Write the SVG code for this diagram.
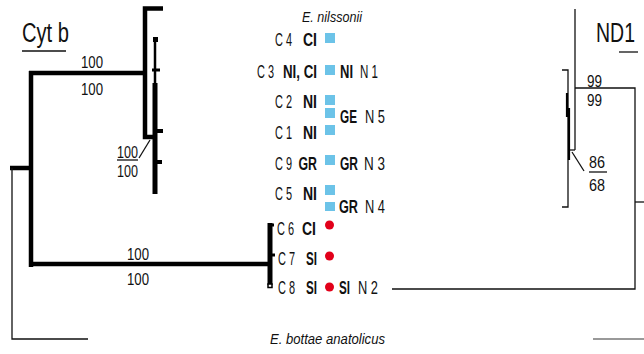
<svg xmlns="http://www.w3.org/2000/svg" width="644" height="354" viewBox="0 0 644 354">
<style>
text{font-family:"Liberation Sans","Arial",sans-serif;fill:#111}
.t{font-size:27px}
.s{font-size:16px}
.r{font-size:18.5px}
.b{font-size:18.5px;font-weight:bold}
.i{font-size:15px;font-style:italic}
.thick{stroke:#000;stroke-width:4.5;fill:none}
.thin{stroke:#111;stroke-width:1.3;fill:none}
.sq{fill:#6cc3e8}
.dot{fill:#e2001a}
</style>
<g id="connectors">
  <!-- Cyt b tree -->
  <line class="thick" x1="10" y1="168" x2="33" y2="168"/>
  <polyline class="thin" points="12,168 12,339 88,339"/>
  <line class="thick" x1="31" y1="71" x2="31" y2="267"/>
  <line class="thick" x1="29" y1="73" x2="147" y2="73"/>
  <line class="thick" x1="29" y1="264" x2="272" y2="264"/>
  <polyline class="thick" points="163,8.5 145,8.5 145,137 155,137"/>
  <rect x="153" y="37" width="5" height="5" fill="#000"/>
  <line x1="155" y1="40" x2="155" y2="85" stroke="#000" stroke-width="2.5"/>
  <line x1="155" y1="83" x2="155" y2="194" stroke="#000" stroke-width="5"/>
  <line x1="152" y1="70" x2="160" y2="70" stroke="#000" stroke-width="3"/>
  <line x1="155" y1="131" x2="163" y2="131" stroke="#000" stroke-width="4"/>
  <line x1="155" y1="162" x2="162" y2="162" stroke="#000" stroke-width="4"/>
  <line class="thin" x1="139" y1="158" x2="150" y2="140"/>
  <line class="thin" x1="117" y1="160" x2="138" y2="160"/>
  <line x1="270" y1="223" x2="270" y2="285" stroke="#000" stroke-width="5"/>
  <line x1="270" y1="225" x2="274" y2="225" stroke="#000" stroke-width="3"/>
  <line x1="270" y1="255" x2="275" y2="255" stroke="#000" stroke-width="3"/>
  <rect x="268" y="284" width="4" height="3.5" fill="#fff" stroke="#000" stroke-width="1.5"/>
  <!-- ND1 tree -->
  <line class="thin" x1="575" y1="9" x2="575" y2="150"/>
  <polyline class="thin" points="575,88 635,88 635,289 392,289"/>
  <line class="thin" x1="635" y1="202" x2="644" y2="202"/>
  <line class="thin" x1="569" y1="150" x2="575" y2="150"/>
  <polyline class="thin" points="562,70 568,70 568,207 562,207"/>
  <line x1="567" y1="93" x2="567" y2="117" stroke="#000" stroke-width="2.2"/>
  <line x1="569" y1="108" x2="569" y2="160" stroke="#000" stroke-width="2.2"/>
  <line class="thin" x1="572" y1="152" x2="584" y2="171"/>
  <line class="thin" x1="589" y1="172" x2="607" y2="172"/>
  <line x1="593" y1="339" x2="644" y2="339" stroke="#777" stroke-width="1.6"/>
  <line class="thin" x1="22" y1="51" x2="66" y2="51"/>
  <line class="thin" x1="619" y1="52" x2="638" y2="52"/>
</g>
<g id="titles">
  <text class="t" x="22" y="42" textLength="47" lengthAdjust="spacingAndGlyphs">Cyt b</text>
  <text class="t" x="596" y="42" textLength="39" lengthAdjust="spacingAndGlyphs">ND1</text>
  <text class="i" x="302" y="22" textLength="60" lengthAdjust="spacingAndGlyphs">E. nilssonii</text>
  <text class="i" x="270" y="344" textLength="115" lengthAdjust="spacingAndGlyphs">E. bottae anatolicus</text>
</g>
<g id="support">
  <text class="s" x="81" y="68" textLength="22" lengthAdjust="spacingAndGlyphs">100</text>
  <text class="s" x="81" y="95" textLength="22" lengthAdjust="spacingAndGlyphs">100</text>
  <text class="s" x="117" y="158" textLength="21" lengthAdjust="spacingAndGlyphs">100</text>
  <text class="s" x="117" y="177" textLength="21" lengthAdjust="spacingAndGlyphs">100</text>
  <text class="s" x="127" y="260" textLength="22" lengthAdjust="spacingAndGlyphs">100</text>
  <text class="s" x="127" y="285" textLength="22" lengthAdjust="spacingAndGlyphs">100</text>
  <text class="s" x="587" y="87" textLength="15" lengthAdjust="spacingAndGlyphs">99</text>
  <text class="s" x="587" y="106" textLength="15" lengthAdjust="spacingAndGlyphs">99</text>
  <text class="s" x="589" y="168" textLength="16" lengthAdjust="spacingAndGlyphs">86</text>
  <text class="s" x="589" y="191" textLength="16" lengthAdjust="spacingAndGlyphs">68</text>
</g>
<g id="C4"><text class="r" x="275" y="46" textLength="17" lengthAdjust="spacingAndGlyphs">C 4</text><text class="b" x="303" y="46" textLength="14" lengthAdjust="spacingAndGlyphs">CI</text><rect class="sq" x="325" y="33" width="10" height="10"/></g>
<g id="C3"><text class="r" x="257" y="78" textLength="17" lengthAdjust="spacingAndGlyphs">C 3</text><text class="b" x="283" y="78" textLength="34" lengthAdjust="spacingAndGlyphs">NI, CI</text><rect class="sq" x="325" y="65" width="10" height="10"/></g>
<g id="N1"><text class="b" x="340" y="78" textLength="13" lengthAdjust="spacingAndGlyphs">NI</text><text class="r" x="360" y="78" textLength="18" lengthAdjust="spacingAndGlyphs">N 1</text></g>
<g id="C2"><text class="r" x="275" y="108" textLength="17" lengthAdjust="spacingAndGlyphs">C 2</text><text class="b" x="303" y="108" textLength="14" lengthAdjust="spacingAndGlyphs">NI</text><rect class="sq" x="325" y="95" width="10" height="10"/></g>
<g id="N5"><rect class="sq" x="325" y="108" width="10" height="10"/><text class="b" x="340" y="123" textLength="17" lengthAdjust="spacingAndGlyphs">GE</text><text class="r" x="365" y="123" textLength="20" lengthAdjust="spacingAndGlyphs">N 5</text></g>
<g id="C1"><text class="r" x="275" y="139" textLength="17" lengthAdjust="spacingAndGlyphs">C 1</text><text class="b" x="303" y="139" textLength="14" lengthAdjust="spacingAndGlyphs">NI</text><rect class="sq" x="325" y="125" width="10" height="10"/></g>
<g id="C9"><text class="r" x="275" y="170" textLength="17" lengthAdjust="spacingAndGlyphs">C 9</text><text class="b" x="298.5" y="170" textLength="18.5" lengthAdjust="spacingAndGlyphs">GR</text><rect class="sq" x="325" y="155" width="10" height="10"/></g>
<g id="N3"><text class="b" x="340" y="170" textLength="18" lengthAdjust="spacingAndGlyphs">GR</text><text class="r" x="364" y="170" textLength="21" lengthAdjust="spacingAndGlyphs">N 3</text></g>
<g id="C5"><text class="r" x="275" y="200" textLength="17" lengthAdjust="spacingAndGlyphs">C 5</text><text class="b" x="303" y="200" textLength="14" lengthAdjust="spacingAndGlyphs">NI</text><rect class="sq" x="325" y="185" width="10" height="10"/></g>
<g id="N4"><rect class="sq" x="325" y="202" width="10" height="9"/><text class="b" x="339" y="213" textLength="19" lengthAdjust="spacingAndGlyphs">GR</text><text class="r" x="365" y="213" textLength="20" lengthAdjust="spacingAndGlyphs">N 4</text></g>
<g id="C6"><text class="r" x="277" y="235" textLength="17" lengthAdjust="spacingAndGlyphs">C 6</text><text class="b" x="302" y="235" textLength="14" lengthAdjust="spacingAndGlyphs">CI</text><circle class="dot" cx="329.5" cy="225" r="4.5"/></g>
<g id="C7"><text class="r" x="278" y="265" textLength="17" lengthAdjust="spacingAndGlyphs">C 7</text><text class="b" x="306" y="265" textLength="11" lengthAdjust="spacingAndGlyphs">SI</text><circle class="dot" cx="329.5" cy="256" r="4.5"/></g>
<g id="C8"><text class="r" x="278" y="294" textLength="17" lengthAdjust="spacingAndGlyphs">C 8</text><text class="b" x="306" y="294" textLength="11" lengthAdjust="spacingAndGlyphs">SI</text><circle class="dot" cx="329.5" cy="287" r="4.5"/></g>
<g id="N2"><text class="b" x="339" y="294" textLength="11" lengthAdjust="spacingAndGlyphs">SI</text><text class="r" x="358" y="294" textLength="20" lengthAdjust="spacingAndGlyphs">N 2</text></g>
</svg>
